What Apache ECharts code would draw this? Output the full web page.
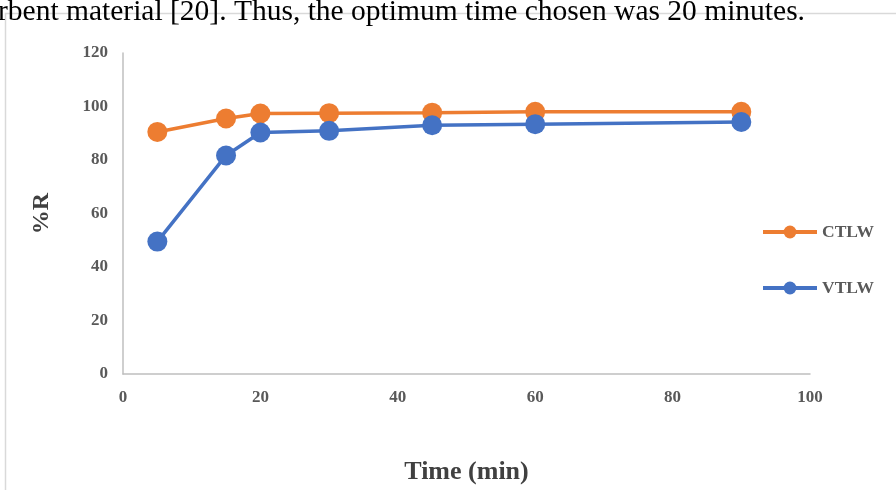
<!DOCTYPE html>
<html><head><meta charset="utf-8">
<script src="https://cdn.jsdelivr.net/npm/echarts@6/dist/echarts.min.js"></script>
<style>html,body{margin:0;padding:0;background:#fff}#c{width:896px;height:490px}</style>
</head><body><div id="c"></div>
<script>
const timeMin = [5, 15, 20, 30, 45, 60, 90];
const ctlw = [90.5, 95.5, 97.4, 97.5, 97.7, 98.0, 98.0];
const vtlw = [49.5, 81.7, 90.3, 90.9, 93.0, 93.4, 94.2];
const seriesNames = ['CTLW', 'VTLW'];
const headerText = 'rbent material [20]. Thus, the optimum time chosen was 20 minutes.';

const chart = echarts.init(document.getElementById('c'));
const font = '"Liberation Serif","Times New Roman",serif';
const mk = (name, xs, ys, color) => ({
  name, type: 'line', data: xs.map((x, i) => [x, ys[i]]),
  symbol: 'circle', symbolSize: 20, lineStyle: {width: 3.5, color}, itemStyle: {color},
  z: name === 'CTLW' ? 2 : 3
});
chart.setOption({
  animation: false,
  textStyle: {fontFamily: font},
  grid: {left: 123, right: 86, top: 53, bottom: 113},
  xAxis: {type: 'value', min: 0, max: 100, interval: 20,
    axisLine: {lineStyle: {color: '#bfbfbf', width: 1.5}}, axisTick: {show: false}, splitLine: {show: false},
    axisLabel: {color: '#595959', fontWeight: 'bold', fontSize: 17, fontFamily: font, margin: 15},
    name: 'Time (min)', nameLocation: 'middle', nameGap: 85,
    nameTextStyle: {color: '#404040', fontWeight: 'bold', fontSize: 26, fontFamily: font}},
  yAxis: {type: 'value', min: 0, max: 120, interval: 20,
    axisLine: {show: true, lineStyle: {color: '#bfbfbf', width: 1.5}}, axisTick: {show: false}, splitLine: {show: false},
    axisLabel: {color: '#595959', fontWeight: 'bold', fontSize: 17, fontFamily: font, margin: 15},
    name: '%R', nameLocation: 'middle', nameGap: 69, nameRotate: 90,
    nameTextStyle: {color: '#404040', fontWeight: 'bold', fontSize: 24, fontFamily: font}},
  legend: {orient: 'vertical', left: 756, top: 218, itemGap: 38, itemWidth: 54, itemHeight: 16,
    data: seriesNames, lineStyle: {width: 4},
    textStyle: {color: '#595959', fontWeight: 'bold', fontSize: 17.5, fontFamily: font, padding: [0,0,0,0]}},
  graphic: [
    {type: 'rect', shape: {x: 5.5, y: 13.5, width: 1000, height: 1000}, style: {fill: 'none', stroke: '#d9d9d9', lineWidth: 1.5}},
    {type: 'text', left: -2, top: -3, style: {text: headerText, font: '29.5px ' + font, fill: '#000'}}
  ],
  series: [
    mk('CTLW', timeMin, ctlw, '#ed7d31'),
    mk('VTLW', timeMin, vtlw, '#4472c4')
  ]
});
</script></body></html>
